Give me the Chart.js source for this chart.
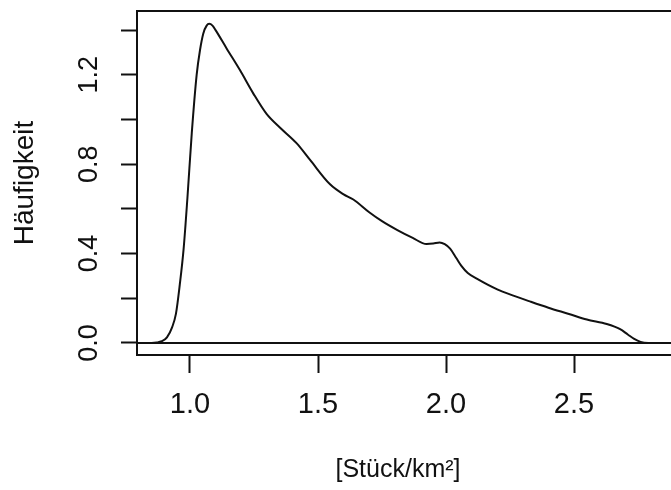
<!DOCTYPE html>
<html>
<head>
<meta charset="utf-8">
<script src="https://cdn.jsdelivr.net/npm/chart.js@4.4.1/dist/chart.umd.min.js"></script>
<style>
  html, body { margin: 0; padding: 0; background: #ffffff; overflow: hidden; width: 671px; height: 490px; }
  #wrap { width: 700px; height: 490px; }
</style>
</head>
<body>
<div id="wrap"><canvas id="c" width="700" height="490"></canvas></div>
<script>
// ---- data ----
const xValues = [0.80, 0.85, 0.87, 0.89, 0.91, 0.93, 0.945, 0.96, 0.975, 0.99, 1.007, 1.026, 1.039, 1.052, 1.065, 1.075, 1.088, 1.10, 1.143, 1.195, 1.247, 1.299, 1.352, 1.417, 1.469, 1.547, 1.60, 1.638, 1.70, 1.75, 1.81, 1.87, 1.924, 1.95, 1.975, 1.995, 2.016, 2.04, 2.06, 2.085, 2.12, 2.20, 2.263, 2.33, 2.40, 2.48, 2.55, 2.628, 2.68, 2.71, 2.735, 2.76, 2.79, 2.85, 2.95];
const yValues = [0, 0, 0.002, 0.008, 0.025, 0.07, 0.13, 0.26, 0.42, 0.65, 0.94, 1.20, 1.31, 1.385, 1.42, 1.428, 1.42, 1.40, 1.318, 1.221, 1.117, 1.025, 0.963, 0.893, 0.819, 0.71, 0.665, 0.642, 0.585, 0.545, 0.505, 0.47, 0.443, 0.445, 0.450, 0.442, 0.422, 0.38, 0.345, 0.313, 0.288, 0.240, 0.212, 0.185, 0.158, 0.130, 0.105, 0.085, 0.062, 0.038, 0.018, 0.005, 0.0005, 0, 0];
const xTicks = [1.0, 1.5, 2.0, 2.5];
const xTickLabels = ['1.0', '1.5', '2.0', '2.5'];
const yTicks = [0, 0.2, 0.4, 0.6, 0.8, 1.0, 1.2, 1.4];
const yTickLabels = ['0.0', '', '0.4', '', '0.8', '', '1.2', ''];
const xRange = [0.793, 2.953];
const yRange = [-0.0537, 1.4855];
const zeroLineY = [0, 0];
const xTitle = '[Stück/km²]';
const yTitle = 'Häufigkeit';

const FONT = '"Liberation Sans", Arial, sans-serif';
const X_TICK_SIZE = 29;
const Y_TICK_SIZE = 27;
const Y_TITLE_SIZE = 28;
const X_TITLE_SIZE = 25;
const INK = '#111';

const curve = xValues.map((x, i) => ({ x: x, y: yValues[i] }));
const zeroLine = xRange.map((x, i) => ({ x: x, y: zeroLineY[i] }));

const decor = {
  id: 'decor',
  afterDraw(chart) {
    const ctx = chart.ctx;
    const a = chart.chartArea;
    const ys = chart.scales.y;
    ctx.save();
    // top edge of the box
    ctx.strokeStyle = INK;
    ctx.lineWidth = 2;
    ctx.beginPath();
    ctx.moveTo(a.left - 1, a.top);
    ctx.lineTo(a.right + 1, a.top);
    ctx.stroke();
    // rotated y tick labels
    ctx.fillStyle = INK;
    ctx.font = Y_TICK_SIZE + 'px ' + FONT;
    ctx.textAlign = 'center';
    ctx.textBaseline = 'alphabetic';
    yTicks.forEach((v, i) => {
      const lab = yTickLabels[i];
      if (!lab) return;
      const py = ys.getPixelForValue(v);
      ctx.save();
      ctx.translate(97, py);
      ctx.rotate(-Math.PI / 2);
      ctx.fillText(lab, 0, 0);
      ctx.restore();
    });
    // axis titles
    ctx.font = Y_TITLE_SIZE + 'px ' + FONT;
    ctx.save();
    ctx.translate(33, (a.top + a.bottom) / 2);
    ctx.rotate(-Math.PI / 2);
    ctx.fillText(yTitle, 0, 0);
    ctx.restore();
    ctx.font = X_TITLE_SIZE + 'px ' + FONT;
    ctx.fillText(xTitle, 398, 477);
    ctx.restore();
  }
};

new Chart(document.getElementById('c'), {
  type: 'line',
  data: {
    datasets: [
      { data: curve, borderColor: INK, borderWidth: 2, pointRadius: 0, cubicInterpolationMode: 'monotone', fill: false },
      { data: zeroLine, borderColor: INK, borderWidth: 2, pointRadius: 0, tension: 0, fill: false }
    ]
  },
  options: {
    responsive: false,
    animation: false,
    devicePixelRatio: 1,
    layout: { padding: { top: 11, right: 10, left: 0, bottom: 0 } },
    plugins: { legend: { display: false }, tooltip: { enabled: false }, title: { display: false } },
    scales: {
      x: {
        type: 'linear',
        position: 'bottom',
        min: xRange[0],
        max: xRange[1],
        afterBuildTicks: (s) => { s.ticks = xTicks.map(v => ({ value: v })); },
        afterFit: (s) => { s.height = 135; },
        grid: { display: true, drawOnChartArea: false, drawTicks: true, tickLength: 18, tickWidth: 2, tickColor: INK },
        border: { display: true, color: INK, width: 2 },
        ticks: {
          color: INK,
          padding: 15,
          maxRotation: 0,
          minRotation: 0,
          font: { family: FONT, size: X_TICK_SIZE },
          callback: (v, i) => xTickLabels[i]
        }
      },
      y: {
        type: 'linear',
        position: 'left',
        min: yRange[0],
        max: yRange[1],
        afterBuildTicks: (s) => { s.ticks = yTicks.map(v => ({ value: v })); },
        afterFit: (s) => { s.width = 137; },
        grid: { display: true, drawOnChartArea: false, drawTicks: true, tickLength: 16, tickWidth: 2, tickColor: INK },
        border: { display: true, color: INK, width: 2 },
        ticks: { display: false }
      }
    }
  },
  plugins: [decor]
});
</script>
</body>
</html>
